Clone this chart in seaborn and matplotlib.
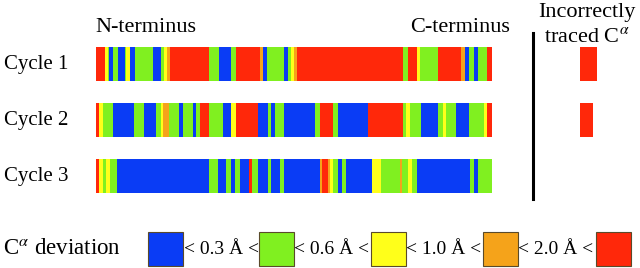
import numpy as np
import matplotlib
matplotlib.use("Agg")
import matplotlib.pyplot as plt
import seaborn as sns
from matplotlib.colors import ListedColormap
from matplotlib.lines import Line2D
from matplotlib.patches import Rectangle

# deviation classes: B < 0.3, G < 0.6, Y < 1.0, O < 2.0, R >= 2.0 (Angstrom)
class_order = ["B", "G", "Y", "O", "R"]
class_colors = ["#0a3cf5", "#80f020", "#ffff1a", "#f5a31a", "#ff280a"]
thresholds = ["0.3", "0.6", "1.0", "2.0"]

cycles = ["Cycle 1", "Cycle 2", "Cycle 3"]

# run-length (class, number of residues)
cycle1_classes = list("RYGBGBGYBGBGYORGBGROBGBGYORGRYGROBGBGR")
cycle1_lengths = [9, 3, 1, 4, 5, 7, 1, 4, 5, 18, 8, 3, 3, 3, 39, 10, 12, 5, 24, 3, 4, 17, 4,
                  3, 3, 3, 106, 5, 9, 3, 18, 23, 4, 4, 5, 4, 9, 5]

cycle2_classes = list("RYGBGBGYOGBGBGRGBYRBGBGBGRGBRGYGBGYGBGYR")
cycle2_lengths = [3, 4, 10, 21, 10, 12, 5, 2, 6, 10, 4, 10, 3, 4, 9, 14, 8, 5, 22, 10, 3, 4,
                  9, 31, 5, 13, 5, 30, 35, 3, 4, 11, 17, 5, 3, 10, 13, 15, 3, 5]

cycle3_classes = list("RYGYGBGBGBGBRGBGBGBOROYGBGBYGOGYGBGBG")
cycle3_lengths = [3, 4, 3, 4, 7, 92, 9, 8, 5, 4, 5, 9, 3, 6, 10, 3, 9, 4, 36, 2, 6, 2, 3,
                  5, 4, 4, 26, 9, 19, 2, 6, 4, 5, 53, 4, 4, 14]

# incorrectly traced C-alpha per cycle (residues)
incorrect = [17, 13, 0]

plt.rcParams["font.family"] = ["Liberation Serif", "DejaVu Serif"]
plt.rcParams["mathtext.fontset"] = "stix"

cmap = ListedColormap(class_colors)
W, H = 640, 268
fig = plt.figure(figsize=(6.4, 2.68), dpi=100)
fig.patch.set_facecolor("white")

def fx(px):
    return px / W

def fy(py):
    return 1 - py / H

rows = [(cycle1_classes, cycle1_lengths), (cycle2_classes, cycle2_lengths),
        (cycle3_classes, cycle3_lengths)]
row_tops = [47, 103, 159]
row_h = 34
total = sum(cycle1_lengths)

for i, (cls, lens) in enumerate(rows):
    codes = np.repeat([class_order.index(c) for c in cls], lens)
    ax = fig.add_axes([fx(96), fy(row_tops[i] + row_h), fx(396), row_h / H])
    sns.heatmap(codes[np.newaxis, :], cmap=cmap, vmin=-0.5, vmax=4.5, cbar=False,
                xticklabels=False, yticklabels=False, ax=ax, rasterized=True)
    ax.set_xlim(0, total)
    fig.text(fx(4), fy(row_tops[i] + row_h / 2 + 1), cycles[i], fontsize=15,
             ha="left", va="center")

    if incorrect[i] > 0:
        axi = fig.add_axes([fx(580), fy(row_tops[i] + row_h), fx(max(incorrect)), row_h / H])
        sns.heatmap(np.repeat([4], incorrect[i])[np.newaxis, :], cmap=cmap, vmin=-0.5,
                    vmax=4.5, cbar=False, xticklabels=False, yticklabels=False, ax=axi)
        axi.set_xlim(0, max(incorrect))

fig.text(fx(95), fy(28), "N-terminus", fontsize=16, ha="left", va="center")
fig.text(fx(510), fy(28), "C-terminus", fontsize=16, ha="right", va="center")
fig.text(fx(587), fy(12), "Incorrectly", fontsize=16, ha="center", va="center")
fig.text(fx(587), fy(37), r"traced C$^{\alpha}$", fontsize=16, ha="center", va="center")

fig.add_artist(Line2D([fx(533), fx(533)], [fy(33), fy(199)], color="black", lw=2.2))

# legend
fig.text(fx(3), fy(249), r"C$^{\alpha}$ deviation", fontsize=16.5, ha="left", va="center")
sw_left = [148, 259, 371, 483, 596]
for j, col in enumerate(class_colors):
    fig.add_artist(Rectangle((fx(sw_left[j]), fy(266)), fx(35), 34 / H,
                             facecolor=col, edgecolor="#5a4a2a", lw=0.8,
                             transform=fig.transFigure))
    if j < len(thresholds):
        fig.text(fx(sw_left[j] + 35 + 38), fy(249), "< %s Å <" % thresholds[j],
                 fontsize=14, ha="center", va="center")

fig.savefig("out.png", dpi=100, facecolor="white")
